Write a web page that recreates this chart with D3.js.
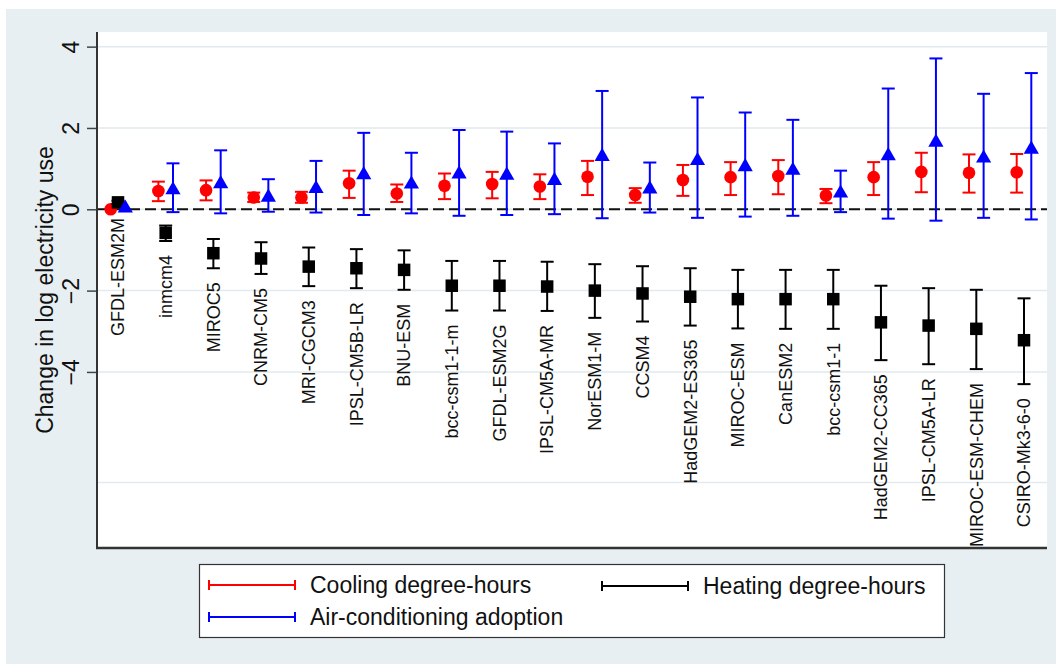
<!DOCTYPE html>
<html>
<head>
<meta charset="utf-8">
<script src="https://cdn.jsdelivr.net/npm/d3@7"></script>
<style>
  html, body { margin: 0; padding: 0; background: #ffffff; }
  svg { display: block; font-family: "Liberation Sans", Arial, sans-serif; }
</style>
</head>
<body>
<svg id="chart" width="1056" height="664"></svg>
<script>
// Climate models, ordered by heating effect
const models = [
  "GFDL-ESM2M", "inmcm4", "MIROC5", "CNRM-CM5", "MRI-CGCM3", "IPSL-CM5B-LR",
  "BNU-ESM", "bcc-csm1-1-m", "GFDL-ESM2G", "IPSL-CM5A-MR", "NorESM1-M", "CCSM4",
  "HadGEM2-ES365", "MIROC-ESM", "CanESM2", "bcc-csm1-1", "HadGEM2-CC365",
  "IPSL-CM5A-LR", "MIROC-ESM-CHEM", "CSIRO-Mk3-6-0"
];

// Cooling degree-hours: estimate and 95% interval
const coolEst = [0.00, 0.45, 0.47, 0.29, 0.29, 0.64, 0.39, 0.58, 0.62, 0.56, 0.80, 0.35, 0.72, 0.79, 0.82, 0.34, 0.79, 0.92, 0.90, 0.91];
const coolLo  = [0.00, 0.20, 0.22, 0.18, 0.16, 0.28, 0.18, 0.25, 0.27, 0.25, 0.35, 0.16, 0.33, 0.35, 0.37, 0.15, 0.35, 0.42, 0.41, 0.41];
const coolHi  = [0.00, 0.68, 0.71, 0.41, 0.43, 0.95, 0.61, 0.88, 0.92, 0.86, 1.19, 0.52, 1.09, 1.16, 1.21, 0.50, 1.16, 1.39, 1.35, 1.36];

// Heating degree-hours: estimate and 95% interval
const heatEst = [0.17, -0.58, -1.08, -1.21, -1.41, -1.45, -1.49, -1.88, -1.88, -1.90, -2.00, -2.07, -2.15, -2.21, -2.21, -2.21, -2.78, -2.86, -2.94, -3.22];
const heatLo  = [0.13, -0.78, -1.45, -1.59, -1.89, -1.94, -1.98, -2.49, -2.49, -2.50, -2.67, -2.76, -2.86, -2.93, -2.94, -2.94, -3.71, -3.81, -3.93, -4.30];
const heatHi  = [0.21, -0.40, -0.73, -0.81, -0.94, -0.98, -1.01, -1.27, -1.27, -1.29, -1.35, -1.40, -1.45, -1.49, -1.49, -1.49, -1.88, -1.94, -1.98, -2.19];

// Air-conditioning adoption: estimate and 95% interval
const acEst = [0.08, 0.53, 0.68, 0.35, 0.56, 0.90, 0.67, 0.92, 0.89, 0.76, 1.35, 0.55, 1.25, 1.10, 1.01, 0.45, 1.37, 1.70, 1.31, 1.53];
const acLo  = [0.08, -0.07, -0.10, -0.06, -0.08, -0.14, -0.10, -0.16, -0.14, -0.12, -0.22, -0.08, -0.21, -0.18, -0.16, -0.07, -0.23, -0.28, -0.21, -0.25];
const acHi  = [0.08, 1.13, 1.45, 0.74, 1.19, 1.88, 1.39, 1.95, 1.91, 1.62, 2.91, 1.15, 2.75, 2.38, 2.20, 0.95, 2.97, 3.71, 2.84, 3.35];

// Axis ticks and grid
const yTicks = [-4, -2, 0, 2, 4];
const yGrid = [-6.72, -4, -2, 0, 2, 4];
const yDomain = [-8.33, 4.36];

const yTitle = "Change in log electricity use";
const legendLabels = ["Cooling degree-hours", "Heating degree-hours", "Air-conditioning adoption"];

const svg = d3.select("#chart");
const W = 1056, H = 664;
const plot = { left: 97, right: 1047, top: 32, bottom: 548 };

// Outer panel
svg.append("rect").attr("x", 6).attr("y", 9).attr("width", W - 6).attr("height", H - 9).attr("fill", "#e8eff2");
svg.append("rect").attr("x", plot.left).attr("y", plot.top)
  .attr("width", plot.right - plot.left).attr("height", plot.bottom - plot.top).attr("fill", "#ffffff");

const y = d3.scaleLinear().domain(yDomain).range([plot.bottom, plot.top]);
const x = d3.scalePoint().domain(models).range([118, 1024]);
const series = ["cool", "heat", "ac"];
const off = d3.scalePoint().domain(series).range([-7.3, 7.3]);

// Grid lines
svg.append("g").selectAll("line").data(yGrid).join("line")
  .attr("x1", plot.left).attr("x2", plot.right)
  .attr("y1", d => y(d)).attr("y2", d => y(d))
  .attr("stroke", "#e1eaee").attr("stroke-width", 1.5);

// Zero reference
svg.append("line")
  .attr("x1", plot.left).attr("x2", plot.right)
  .attr("y1", y(0)).attr("y2", y(0))
  .attr("stroke", "#111").attr("stroke-width", 2).attr("stroke-dasharray", "11,5");

// Y axis
const yAxis = d3.axisLeft(y).tickValues(yTicks).tickSize(10).tickPadding(8).tickFormat(d3.format("d"));
const gy = svg.append("g").attr("transform", `translate(${plot.left},0)`).call(yAxis);
gy.select(".domain").remove();
gy.selectAll(".tick line").attr("stroke", "#444").attr("stroke-width", 1.5);
gy.selectAll(".tick text")
  .attr("x", null).attr("dy", null)
  .attr("transform", "translate(-18,0) rotate(-90)")
  .attr("text-anchor", "middle")
  .attr("font-size", 23).attr("fill", "#111")
  .attr("font-family", "Liberation Sans, Arial, sans-serif");

// Axis lines
svg.append("line").attr("x1", plot.left).attr("x2", plot.left).attr("y1", plot.top).attr("y2", plot.bottom + 1)
  .attr("stroke", "#333").attr("stroke-width", 2);
svg.append("line").attr("x1", plot.left - 1).attr("x2", plot.right).attr("y1", plot.bottom).attr("y2", plot.bottom)
  .attr("stroke", "#333").attr("stroke-width", 2.5);

// Y title
svg.append("text")
  .attr("transform", `translate(45,${(plot.top + plot.bottom) / 2}) rotate(-90)`)
  .attr("text-anchor", "middle").attr("dy", "0.35em")
  .attr("font-size", 23).attr("fill", "#111")
  .text(yTitle);

const idx = d3.range(models.length);
const capHalf = 6.5;

function errorBars(key, lo, hi, color) {
  const g = svg.append("g").attr("stroke", color).attr("stroke-width", 2).attr("fill", "none");
  idx.forEach(i => {
    if (hi[i] - lo[i] < 0.01) return;
    const cx = x(models[i]) + off(key);
    g.append("line").attr("x1", cx).attr("x2", cx).attr("y1", y(lo[i])).attr("y2", y(hi[i]));
    g.append("line").attr("x1", cx - capHalf).attr("x2", cx + capHalf).attr("y1", y(lo[i])).attr("y2", y(lo[i]));
    g.append("line").attr("x1", cx - capHalf).attr("x2", cx + capHalf).attr("y1", y(hi[i])).attr("y2", y(hi[i]));
  });
}

// Cooling: red circles
errorBars("cool", coolLo, coolHi, "#ff0000");
svg.append("g").selectAll("circle").data(idx).join("circle")
  .attr("cx", i => x(models[i]) + off("cool")).attr("cy", i => y(coolEst[i]))
  .attr("r", 6.3).attr("fill", "#ff0000");

// Heating: black squares
errorBars("heat", heatLo, heatHi, "#000000");
const sq = 12.5;
svg.append("g").selectAll("rect").data(idx).join("rect")
  .attr("x", i => x(models[i]) + off("heat") - sq / 2).attr("y", i => y(heatEst[i]) - sq / 2)
  .attr("width", sq).attr("height", sq).attr("fill", "#000000");

// Air-conditioning: blue triangles, centred on their bounding box
errorBars("ac", acLo, acHi, "#0000ff");
const triBox = {
  draw(ctx, size) {
    const s = Math.sqrt(size * 4 / Math.sqrt(3));
    const h = s * Math.sqrt(3) / 2;
    ctx.moveTo(0, -h / 2);
    ctx.lineTo(s / 2, h / 2);
    ctx.lineTo(-s / 2, h / 2);
    ctx.closePath();
  }
};
const tri = d3.symbol().type(triBox).size(100);
svg.append("g").selectAll("path").data(idx).join("path")
  .attr("transform", i => `translate(${x(models[i]) + off("ac")},${y(acEst[i])})`)
  .attr("d", tri).attr("fill", "#0000ff");

// Model names beneath the heating interval
svg.append("g").selectAll("text").data(idx).join("text")
  .attr("transform", i => `translate(${x(models[i])},${y(heatLo[i]) + 14}) rotate(-90)`)
  .attr("text-anchor", "end").attr("dy", "0.35em")
  .attr("font-size", 18).attr("fill", "#111")
  .text(i => models[i]);

// Legend
const lg = svg.append("g");
lg.append("rect").attr("x", 199.5).attr("y", 564.5).attr("width", 745).attr("height", 73)
  .attr("fill", "#ffffff").attr("stroke", "#333").attr("stroke-width", 1.2);
const legendItems = [
  { label: legendLabels[0], color: "#ff0000", lx: 209, ly: 585 },
  { label: legendLabels[1], color: "#000000", lx: 602, ly: 586 },
  { label: legendLabels[2], color: "#0000ff", lx: 209, ly: 617 }
];
legendItems.forEach(d => {
  const g = lg.append("g").attr("stroke", d.color).attr("stroke-width", 2);
  g.append("line").attr("x1", d.lx).attr("x2", d.lx + 86).attr("y1", d.ly).attr("y2", d.ly);
  g.append("line").attr("x1", d.lx).attr("x2", d.lx).attr("y1", d.ly - 5).attr("y2", d.ly + 5);
  g.append("line").attr("x1", d.lx + 86).attr("x2", d.lx + 86).attr("y1", d.ly - 5).attr("y2", d.ly + 5);
  lg.append("text").attr("x", d.lx + 101).attr("y", d.ly).attr("dy", "0.36em")
    .attr("font-size", 23).attr("fill", "#111").text(d.label);
});
</script>
</body>
</html>
